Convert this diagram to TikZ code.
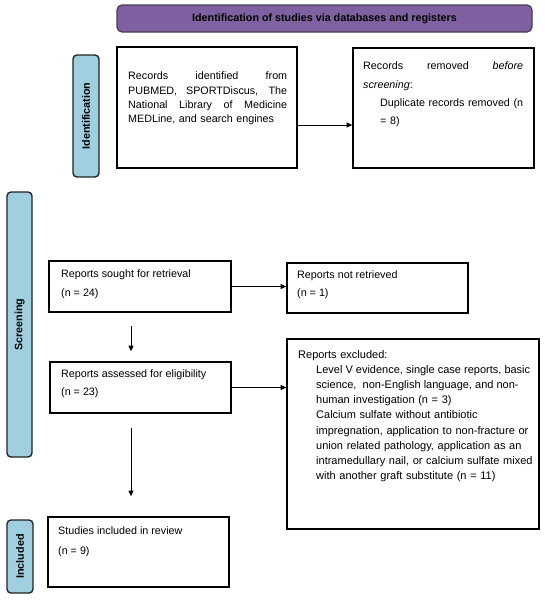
\documentclass[tikz,border=0pt]{standalone}
\usepackage{fontspec}
\setmainfont{Liberation Sans}
\usetikzlibrary{arrows.meta}
\definecolor{hdrpurple}{RGB}{127,96,160}
\definecolor{hdrborder}{RGB}{70,60,85}
\definecolor{sideblue}{RGB}{160,208,224}
\definecolor{sideborder}{RGB}{35,35,35}
\newcommand\jline[2]{\makebox[#1][s]{\spaceskip=0.278em plus 1fil\relax #2}}
\begin{document}
\begin{tikzpicture}[x=1pt,y=-1pt,
  box/.style={draw=black,line width=1.6pt,inner sep=0pt},
  side/.style={draw=sideborder,fill=sideblue,line width=1.4pt,rounded corners=4pt,inner sep=0pt,rotate=90,font=\fontsize{10.75}{13}\selectfont\bfseries},
  hdr/.style={draw=hdrborder,fill=hdrpurple,line width=1.2pt,rounded corners=5pt,inner sep=0pt,font=\fontsize{10.75}{13}\selectfont\bfseries},
  txt/.style={inner sep=0pt,anchor=west,align=left},
  arr/.style={line width=0.8pt,-{Triangle[length=5.5pt,width=5pt]}}
]
\useasboundingbox (0,0) rectangle (545,600);
% header and side labels
\node[hdr,minimum width=415pt,minimum height=27pt] (header) at (324.5,18.5) {Identification of studies via databases and registers};
\node[side,minimum width=122pt,minimum height=26pt] (sideid) at (86,116) {Identification};
\node[side,minimum width=265pt,minimum height=25pt] (sidescr) at (19.5,324.5) {Screening};
\node[side,minimum width=73pt,minimum height=26pt] (sideinc) at (20,556.5) {Included};
% boxes
\node[box,minimum width=180pt,minimum height=121pt] (ident) at (207,107.5) {};
\node[box,minimum width=181pt,minimum height=120pt] (removed) at (443.5,108) {};
\node[box,minimum width=182pt,minimum height=51pt] (sought) at (140,286.5) {};
\node[box,minimum width=181pt,minimum height=50pt] (notret) at (377.5,288) {};
\node[box,minimum width=181pt,minimum height=51pt] (assessed) at (140.5,387.5) {};
\node[box,minimum width=252pt,minimum height=190pt] (excluded) at (413,434) {};
\node[box,minimum width=181pt,minimum height=70pt] (studies) at (138.5,552) {};
% texts
\node[txt,text width=159pt,font=\fontsize{10.75}{14.4}\selectfont] (identtxt) at (128,98.5) {%
\jline{159pt}{Records identified from}\\
\jline{159pt}{PUBMED, SPORTDiscus, The}\\
\jline{159pt}{National Library of Medicine}\\
MEDLine, and search engines};
\node[txt,text width=160pt,font=\fontsize{10.75}{18.3}\selectfont] (removedtxt) at (363,94.5) {%
\jline{160pt}{Records removed \textit{before}}\\
\textit{screening}:\\
\hspace*{17pt}\jline{143pt}{Duplicate records removed (n}\\
\hspace*{17pt}= 8)};
\node[txt,font=\fontsize{10.75}{19}\selectfont] (soughttxt) at (61,284.5) {Reports sought for retrieval\\(n = 24)};
\node[txt,font=\fontsize{10.75}{18}\selectfont] (notrettxt) at (297,285) {Reports not retrieved\\(n = 1)};
\node[txt,font=\fontsize{10.75}{18}\selectfont] (assessedtxt) at (61,384) {Reports assessed for eligibility\\(n = 23)};
\node[txt,font=\fontsize{10.75}{20}\selectfont] (studiestxt) at (58,541.5) {Studies included in review\\(n = 9)};
\node[txt,text width=240pt,font=\fontsize{11}{15.2}\selectfont] (excludedtxt) at (298,416) {%
Reports excluded:\\
\hspace*{18pt}\jline{201pt}{Level V evidence, single case reports, basic}\\
\hspace*{18pt}\jline{201pt}{science,\hspace{0.278em plus 1fil} non-English language, and non-}\\
\hspace*{18pt}human investigation (n = 3)\\
\hspace*{18pt}Calcium sulfate without antibiotic\\
\hspace*{18pt}impregnation, application to non-fracture or\\
\hspace*{18pt}union related pathology, application as an\\
\hspace*{18pt}intramedullary nail, or calcium sulfate mixed\\
\hspace*{18pt}with another graft substitute (n = 11)};
% connectors
\draw[arr] (ident.east |- 0,125) -- (removed.west |- 0,125);
\draw[arr] (sought.east) -- (notret.west |- sought.east);
\draw[arr] (assessed.east) -- (excluded.west |- assessed.east);
\draw[arr,shorten <=13pt,shorten >=10pt] (sought.south -| 131,0) -- (assessed.north -| 131,0);
\draw[arr,shorten <=14pt,shorten >=20pt] (assessed.south -| 131,0) -- (studies.north -| 131,0);
\end{tikzpicture}
\end{document}
